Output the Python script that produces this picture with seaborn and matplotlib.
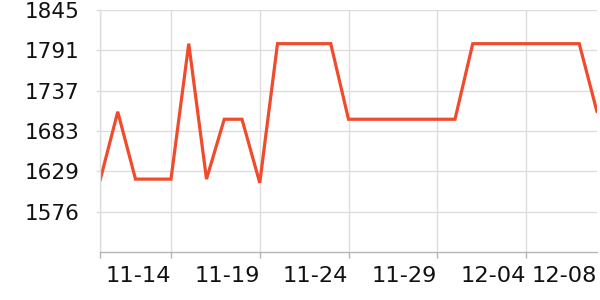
import matplotlib
matplotlib.use("Agg")
import matplotlib.pyplot as plt
import seaborn as sns
import pandas as pd

# ---- data ----
start_date = "2023-11-10"
values = [1617, 1709, 1619, 1619, 1619, 1800, 1619, 1699, 1699, 1614,
          1800, 1800, 1800, 1800, 1699, 1699, 1699, 1699, 1699, 1699,
          1699, 1800, 1800, 1800, 1800, 1800, 1800, 1800, 1709]
dates = pd.date_range(start_date, periods=len(values), freq="D")
tick_dates = ["2023-11-10", "2023-11-14", "2023-11-19", "2023-11-24",
              "2023-11-29", "2023-12-04", "2023-12-08"]
tick_labels = ["", "11-14", "11-19", "11-24", "11-29", "12-04", "12-08"]
y_ticks = [1575.5, 1629.4, 1683.3, 1737.2, 1791.1, 1845.0]
y_tick_labels = ["1576", "1629", "1683", "1737", "1791", "1845"]
y_min = 1521.6

df = pd.DataFrame({"date": dates, "value": values})

sns.set_theme(style="white")
plt.rcParams["font.family"] = ["DejaVu Sans"]

fig = plt.figure(figsize=(6, 3), dpi=100)
ax = fig.add_axes([100 / 600, 1 - 252 / 300, 497 / 600, 242 / 300])

sns.lineplot(data=df, x="date", y="value", ax=ax, color="#ef4b2c",
             linewidth=2.3, solid_joinstyle="miter")

ax.set_xlim(dates[0], dates[-1])
ax.set_ylim(y_min, y_ticks[-1])
ax.set_xticks(pd.to_datetime(tick_dates))
ax.set_xticklabels(tick_labels, ha="right", fontsize=16.2, color="#111111")
ax.set_yticks(y_ticks)
ax.set_yticklabels(y_tick_labels, fontsize=15.5, color="#111111")
ax.set_xlabel("")
ax.set_ylabel("")

ax.grid(True, color="#dddddd", linewidth=1.0)
ax.xaxis.get_gridlines()[-1].set_visible(False)
for s in ["top", "right"]:
    ax.spines[s].set_visible(False)
ax.spines["left"].set_color("#dddddd")
ax.spines["left"].set_linewidth(1.0)
ax.spines["bottom"].set_color("#b5b5b5")
ax.spines["bottom"].set_linewidth(1.0)

ax.tick_params(axis="x", which="major", length=4, width=1, color="#b5b5b5",
               pad=6, bottom=True)
ax.tick_params(axis="y", which="major", length=3, width=1, color="#dddddd",
               pad=12, left=True)
ax.xaxis.get_major_ticks()[-1].tick1line.set_visible(False)

fig.savefig("out.png", dpi=100)
